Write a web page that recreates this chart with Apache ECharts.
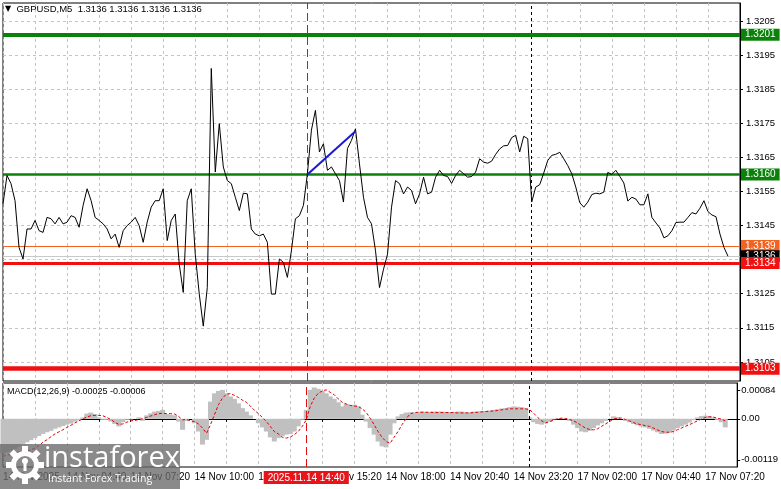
<!DOCTYPE html>
<html>
<head>
<meta charset="utf-8">
<script src="https://cdn.jsdelivr.net/npm/echarts@6/dist/echarts.min.js"></script>
<style>
html,body{margin:0;padding:0;background:#fff;}
#chart{width:781px;height:489px;}
</style>
</head>
<body>
<div id="chart"></div>
<script>
// ---- DATA (GBPUSD M5 close, sampled every 10 minutes) ----
const closePrices = [
1.31514,1.31597,1.31573,1.31523,1.31386,1.31352,1.31440,1.31440,1.31465,1.31435,
1.31430,1.31474,1.31470,1.31455,1.31474,1.31455,1.31460,1.31479,1.31474,1.31445,
1.31509,1.31558,1.31523,1.31474,1.31465,1.31455,1.31440,1.31411,1.31425,1.31386,
1.31435,1.31450,1.31460,1.31474,1.31450,1.31401,1.31460,1.31504,1.31523,1.31523,
1.31558,1.31406,1.31465,1.31484,1.31337,1.31254,1.31523,1.31558,1.31366,1.31249,
1.31155,1.31268,1.31911,1.31607,1.31749,1.31622,1.31582,1.31573,1.31533,1.31494,
1.31545,1.31543,1.31440,1.31425,1.31420,1.31425,1.31401,1.31249,1.31249,1.31352,
1.31342,1.31298,1.31376,1.31470,1.31479,1.31509,1.31602,1.31730,1.31788,1.31666,
1.31690,1.31612,1.31622,1.31602,1.31582,1.31519,1.31676,1.31700,1.31734,1.31631,
1.31533,1.31474,1.31455,1.31376,1.31268,1.31322,1.31366,1.31504,1.31582,1.31573,
1.31543,1.31563,1.31553,1.31514,1.31543,1.31592,1.31543,1.31548,1.31592,1.31612,
1.31597,1.31594,1.31574,1.31597,1.31612,1.31602,1.31592,1.31594,1.31607,1.31646,
1.31636,1.31633,1.31639,1.31659,1.31675,1.31684,1.31685,1.31708,1.31715,1.31666,
1.31712,1.31705,1.31519,1.31563,1.31570,1.31604,1.31641,1.31656,1.31659,1.31665,
1.31646,1.31626,1.31602,1.31563,1.31517,1.31504,1.31519,1.31541,1.31545,1.31543,
1.31548,1.31606,1.31600,1.31612,1.31594,1.31575,1.31522,1.31533,1.31528,1.31511,
1.31511,1.31543,1.31474,1.31458,1.31443,1.31414,1.31420,1.31435,1.31459,1.31460,
1.31460,1.31474,1.31488,1.31484,1.31501,1.31523,1.31491,1.31481,1.31476,1.31425,
1.31386,1.31360
];
const macdMain = [
-0.00100,-0.00097,-0.00093,-0.00087,-0.00080,-0.00073,-0.00068,-0.00062,-0.00056,-0.00050,
-0.00044,-0.00039,-0.00035,-0.00029,-0.00025,-0.00021,-0.00017,-0.00014,-0.00008,-0.00004,
0.00004,0.00015,0.00018,0.00014,0.00004,-0.00003,-0.00003,-0.00008,-0.00015,-0.00022,
-0.00010,-0.00003,-0.00002,0.00000,0.00004,-0.00006,0.00010,0.00016,0.00021,0.00023,
0.00026,0.00014,0.00012,0.00010,-0.00008,-0.00032,-0.00006,0.00000,-0.00013,-0.00037,
-0.00075,-0.00061,0.00050,0.00074,0.00081,0.00084,0.00074,0.00065,0.00058,0.00045,
0.00031,0.00021,0.00010,0.00000,-0.00013,-0.00025,-0.00037,-0.00054,-0.00066,-0.00056,
-0.00051,-0.00046,-0.00044,-0.00037,-0.00022,-0.00003,0.00026,0.00084,0.00091,0.00087,
0.00081,0.00074,0.00065,0.00058,0.00048,0.00036,0.00043,0.00039,0.00041,0.00036,
0.00012,-0.00008,-0.00027,-0.00046,-0.00066,-0.00080,-0.00083,-0.00046,-0.00013,0.00007,
0.00014,0.00018,0.00019,0.00018,0.00019,0.00021,0.00020,0.00020,0.00021,0.00021,
0.00021,0.00020,0.00020,0.00020,0.00021,0.00021,0.00019,0.00019,0.00021,0.00021,
0.00022,0.00023,0.00024,0.00026,0.00028,0.00030,0.00031,0.00034,0.00036,0.00035,
0.00034,0.00031,0.00004,-0.00010,-0.00015,-0.00017,-0.00013,-0.00008,-0.00002,0.00002,
0.00002,0.00000,-0.00006,-0.00017,-0.00027,-0.00037,-0.00039,-0.00035,-0.00027,-0.00019,
-0.00013,-0.00006,0.00000,0.00007,0.00005,0.00000,-0.00006,-0.00010,-0.00015,-0.00019,
-0.00022,-0.00025,-0.00029,-0.00034,-0.00039,-0.00044,-0.00043,-0.00040,-0.00034,-0.00027,
-0.00022,-0.00017,-0.00011,-0.00004,0.00004,0.00008,0.00009,0.00008,0.00004,-0.00003,
-0.00010,-0.00025
];
const macdSignal = [
-0.00109,-0.00106,-0.00103,-0.00100,-0.00097,-0.00095,-0.00093,-0.00090,-0.00085,-0.00078,
-0.00068,-0.00061,-0.00052,-0.00044,-0.00038,-0.00032,-0.00025,-0.00019,-0.00012,-0.00006,
0.00000,0.00005,0.00009,0.00010,0.00010,0.00009,0.00004,-0.00002,-0.00010,-0.00016,
-0.00015,-0.00010,-0.00006,-0.00005,-0.00002,0.00000,0.00004,0.00008,0.00012,0.00015,
0.00016,0.00015,0.00015,0.00014,0.00007,-0.00003,-0.00002,-0.00006,-0.00008,-0.00015,
-0.00027,-0.00042,-0.00017,0.00012,0.00041,0.00060,0.00072,0.00073,0.00068,0.00062,
0.00054,0.00048,0.00037,0.00025,0.00015,0.00004,-0.00008,-0.00022,-0.00037,-0.00044,
-0.00054,-0.00056,-0.00053,-0.00046,-0.00037,-0.00022,-0.00003,0.00036,0.00060,0.00074,
0.00081,0.00084,0.00077,0.00070,0.00058,0.00048,0.00043,0.00039,0.00037,0.00036,
0.00029,0.00019,0.00002,-0.00017,-0.00037,-0.00054,-0.00066,-0.00071,-0.00054,-0.00037,
-0.00017,0.00000,0.00014,0.00018,0.00019,0.00019,0.00019,0.00019,0.00018,0.00018,
0.00018,0.00018,0.00018,0.00018,0.00017,0.00017,0.00017,0.00017,0.00018,0.00019,
0.00020,0.00021,0.00022,0.00023,0.00024,0.00026,0.00028,0.00029,0.00029,0.00029,
0.00029,0.00029,0.00026,0.00016,0.00004,-0.00006,-0.00012,-0.00008,-0.00004,0.00000,
0.00002,0.00001,-0.00002,-0.00006,-0.00012,-0.00020,-0.00027,-0.00031,-0.00032,-0.00029,
-0.00022,-0.00015,-0.00008,-0.00001,0.00002,0.00002,-0.00002,-0.00006,-0.00011,-0.00015,
-0.00017,-0.00020,-0.00022,-0.00027,-0.00032,-0.00037,-0.00039,-0.00039,-0.00037,-0.00032,
-0.00027,-0.00022,-0.00017,-0.00012,-0.00006,-0.00001,0.00004,0.00006,0.00005,0.00002,
-0.00001,-0.00006
];
const timeLabels = ['14 Nov 2025','14 Nov 04:40','14 Nov 07:20','14 Nov 10:00','14 Nov 12:40','14 Nov 15:20',
  '14 Nov 18:00','14 Nov 20:40','14 Nov 23:20','17 Nov 02:00','17 Nov 04:40','17 Nov 07:20'];
const priceTicks = [1.3105,1.3115,1.3125,1.3135,1.3145,1.3155,1.3165,1.3175,1.3185,1.3195,1.3205];
const macdTicks = [-0.00119, 0, 0.00084];
// horizontal levels: value, label text
const levelValues = [1.3201, 1.3160, 1.3139, 1.3136, 1.3134, 1.3103];
const levelTexts  = ['1.3201','1.3160','1.3139','1.3136','1.3134','1.3103'];
// trend line (bar index, price)
const trendIdx = [76, 88];
const trendPrice = [1.3160, 1.31727];
const markerIdx = 76;      // 2025.11.14 14:40
const separatorIdx = 132;  // 17 Nov 00:00
const markerText = '2025.11.14 14:40';
const symbolTitle = 'GBPUSD,M5  1.3136 1.3136 1.3136 1.3136';
const macdTitle = 'MACD(12,26,9) -0.00025 -0.00006';

// categories (10-minute slots, weekend skipped)
const categories = [];
for (let k = 0; k < 185; k++) {
  let day, mins;
  if (k < separatorIdx) { day = '2025.11.14'; mins = 120 + 10 * k; }
  else { day = '2025.11.17'; mins = 10 * (k - separatorIdx); }
  categories.push(day + ' ' + String(Math.floor(mins / 60)).padStart(2, '0') + ':' + String(mins % 60).padStart(2, '0'));
}

const FONT = '"Liberation Sans", Arial, sans-serif';
const levelStyles = [
  {color:'#0a820a', width:4},
  {color:'#0a820a', width:2.5},
  {color:'#f4621f', width:1},
  {color:'#c8c8c8', width:1, bg:'#000'},
  {color:'#f01010', width:3},
  {color:'#f01010', width:4.5}
];
const levelLines = levelValues.map((v, i) => ({
  yAxis: v,
  lineStyle: {color: levelStyles[i].color, width: levelStyles[i].width, type: 'solid'},
  label: {show: true, position: 'end', distance: 1, formatter: levelTexts[i],
    backgroundColor: levelStyles[i].bg || levelStyles[i].color, color: '#fff',
    fontSize: 10, fontFamily: FONT, padding: [1, 4, 0, 4], lineHeight: 11}
}));

const gridLineStyle = {color: '#c4c4c4', type: [3, 3], width: 1};

const chart = echarts.init(document.getElementById('chart'), null, {renderer: 'canvas'});

// gear teeth for logo
const gearTeeth = [];
for (let t = 0; t < 8; t++) {
  gearTeeth.push({type: 'rect', x: 25, y: 465, rotation: t * Math.PI / 4,
    shape: {x: -3, y: -19, width: 6, height: 7}, style: {fill: '#fff'}, z: 101});
}

const option = {
  animation: false,
  textStyle: {fontFamily: FONT},
  title: [
    {text: '{t|▼}  ' + symbolTitle, left: 5, top: 4, padding: 0,
      textStyle: {fontSize: 9.5, fontWeight: 'normal', color: '#000', fontFamily: FONT,
        rich: {t: {fontSize: 8, color: '#000', fontFamily: 'DejaVu Sans'}}}},
    {text: macdTitle, left: 7, top: 387, padding: 0,
      textStyle: {fontSize: 9, fontWeight: 'normal', color: '#000', fontFamily: FONT}}
  ],
  grid: [
    {left: 3, right: 41, top: 3, bottom: 108, show: true, borderColor: '#000', borderWidth: 1, backgroundColor: '#fff'},
    {left: 3, right: 41, top: 383, bottom: 22, show: true, borderColor: '#000', borderWidth: 1, backgroundColor: '#fff'}
  ],
  xAxis: [
    {type: 'category', gridIndex: 0, data: categories, boundaryGap: false,
      axisLine: {show: false}, axisTick: {show: false}, axisLabel: {show: false},
      splitLine: {show: true, interval: 7, lineStyle: gridLineStyle}},
    {type: 'category', gridIndex: 1, data: categories, boundaryGap: false,
      axisLine: {show: true, lineStyle: {color: '#000'}},
      axisTick: {show: true, interval: 7, length: 3, lineStyle: {color: '#000'}},
      axisLabel: {interval: 15, align: 'left', margin: 5, fontSize: 10, color: '#000', fontFamily: FONT,
        formatter: (v, i) => timeLabels[i / 16] || ''},
      splitLine: {show: true, interval: 7, lineStyle: gridLineStyle}}
  ],
  yAxis: [
    {type: 'value', gridIndex: 0, position: 'right', min: 1.30994, max: 1.32103, scale: true,
      axisLine: {show: true, lineStyle: {color: '#000'}},
      axisTick: {show: true, length: 3, customValues: priceTicks, lineStyle: {color: '#000'}},
      axisLabel: {customValues: priceTicks, formatter: v => v.toFixed(4), margin: 6, fontSize: 9.5, color: '#000', fontFamily: FONT},
      splitLine: {show: true, lineStyle: gridLineStyle}},
    {type: 'value', gridIndex: 1, position: 'right', min: -0.0014, max: 0.00104,
      axisLine: {show: true, lineStyle: {color: '#000'}},
      axisTick: {show: true, length: 3, customValues: macdTicks, lineStyle: {color: '#000'}},
      axisLabel: {customValues: macdTicks, margin: 4, fontSize: 9.5, color: '#000', fontFamily: FONT,
        formatter: v => v === 0 ? '0.00' : v.toFixed(5)},
      splitLine: {show: false}}
  ],
  series: [
    {type: 'line', xAxisIndex: 0, yAxisIndex: 0, data: closePrices, symbol: 'none',
      lineStyle: {color: '#000', width: 1}, z: 5,
      markLine: {silent: true, symbol: 'none', animation: false, precision: 6,
        data: [
          {xAxis: categories[markerIdx], lineStyle: {color: '#e01010', width: 1, type: [8, 4]}, label: {show: false}},
          {xAxis: categories[separatorIdx], lineStyle: {color: '#000', width: 1, type: [3, 3]}, label: {show: false}}
        ].concat(levelLines)}},
    {type: 'line', xAxisIndex: 0, yAxisIndex: 0, symbol: 'none', z: 6,
      data: trendIdx.map((k, i) => [k, trendPrice[i]]),
      lineStyle: {color: '#1a1ad0', width: 2}},
    {type: 'bar', xAxisIndex: 1, yAxisIndex: 1, data: macdMain, barWidth: 5,
      itemStyle: {color: '#c0c0c0'}},
    {type: 'line', xAxisIndex: 1, yAxisIndex: 1, data: macdSignal, symbol: 'none', z: 5,
      lineStyle: {color: '#e00000', width: 1, type: [3, 2]},
      markLine: {silent: true, symbol: 'none', animation: false, precision: 6,
        data: [
          {xAxis: categories[markerIdx], lineStyle: {color: '#e01010', width: 1, type: [8, 4]},
            label: {show: true, position: 'start', distance: 4, formatter: markerText,
              backgroundColor: '#e8141a', color: '#fff', fontSize: 10, fontFamily: FONT, padding: [1, 4, 0, 4], lineHeight: 12}},
          {xAxis: categories[separatorIdx], lineStyle: {color: '#000', width: 1, type: [3, 3]}, label: {show: false}}
        ]}}
  ],
  graphic: [
    {type: 'rect', left: 0, top: 444, shape: {width: 180, height: 45}, style: {fill: 'rgba(105,105,105,0.78)'}, z: 100},
    {type: 'ring', x: 25, y: 465, shape: {cx: 0, cy: 0, r: 14, r0: 9}, style: {fill: '#fff'}, z: 101},
    {type: 'circle', x: 25, y: 461, shape: {cx: 0, cy: 0, r: 3}, style: {fill: '#fff'}, z: 101},
    {type: 'rect', x: 23.5, y: 462, shape: {x: 0, y: 0, width: 3, height: 9}, style: {fill: '#fff'}, z: 101}
  ].concat(gearTeeth).concat([
    {type: 'text', left: 44, top: 444, style: {text: 'instaforex', fill: '#fff', font: '29px "Open Sans", sans-serif'}, z: 101},
    {type: 'text', left: 48, top: 474, style: {text: 'Instant Forex Trading', fill: '#fff', font: '10.5px "Open Sans", sans-serif'}, z: 101}
  ])
};
chart.setOption(option);
</script>
</body>
</html>
